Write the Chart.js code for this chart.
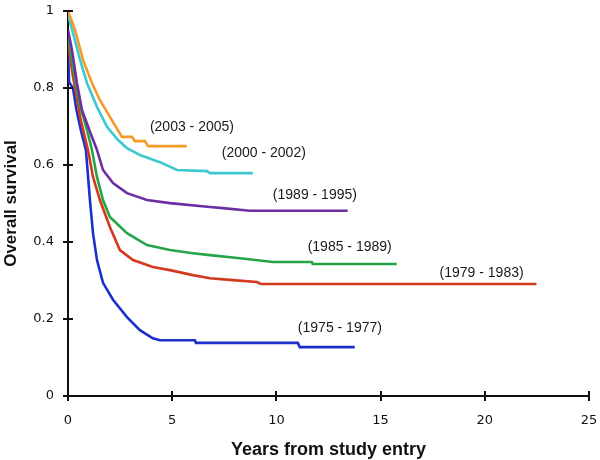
<!DOCTYPE html>
<html>
<head>
<meta charset="utf-8">
<script src="https://cdn.jsdelivr.net/npm/chart.js@4.4.1/dist/chart.umd.min.js"></script>
<style>
  html, body { margin: 0; padding: 0; background: #ffffff; }
  #wrap { width: 600px; height: 460px; position: relative; }
</style>
</head>
<body>
<div id="wrap"><canvas id="c" width="600" height="460"></canvas></div>
<script>
// ---- Data ----
const seriesNames = ['(2003 - 2005)', '(2000 - 2002)', '(1989 - 1995)', '(1985 - 1989)', '(1979 - 1983)', '(1975 - 1977)'];

const t2003 = [0, 0.34, 0.72, 1.15, 1.53, 2.01, 2.59, 3.07, 3.21, 3.69, 3.84, 5.70];
const s2003 = [1.0, 0.951, 0.873, 0.813, 0.769, 0.725, 0.673, 0.673, 0.662, 0.662, 0.649, 0.649];

const t2000 = [0, 0.24, 0.58, 0.91, 1.39, 1.87, 2.40, 2.83, 3.45, 4.51, 5.23, 6.66, 6.81, 8.87];
const s2000 = [0.990, 0.943, 0.873, 0.813, 0.751, 0.699, 0.665, 0.644, 0.626, 0.605, 0.587, 0.584, 0.579, 0.579];

const t1989 = [0, 0.19, 0.43, 0.67, 1.10, 1.39, 1.68, 2.16, 2.83, 3.79, 4.89, 6.81, 7.43, 8.72, 13.42];
const s1989 = [0.951, 0.899, 0.813, 0.743, 0.680, 0.639, 0.587, 0.553, 0.527, 0.509, 0.501, 0.491, 0.488, 0.481, 0.481];

const t1985 = [0, 0.28, 0.55, 0.91, 1.15, 1.39, 1.68, 2.01, 2.83, 3.79, 4.89, 5.99, 6.81, 8.25, 9.83, 11.70, 11.74, 15.77];
const s1985 = [0.940, 0.842, 0.760, 0.691, 0.639, 0.569, 0.509, 0.465, 0.423, 0.392, 0.379, 0.371, 0.366, 0.358, 0.348, 0.348, 0.343, 0.343];

const t1979 = [0, 0.20, 0.60, 0.96, 1.20, 1.53, 2.01, 2.49, 3.12, 4.07, 4.89, 5.99, 6.81, 7.91, 9.06, 9.25, 22.48];
const s1979 = [0.925, 0.842, 0.720, 0.639, 0.569, 0.509, 0.439, 0.379, 0.353, 0.335, 0.327, 0.314, 0.306, 0.301, 0.296, 0.291, 0.291];

const t1975 = [0, 0.05, 0.24, 0.40, 0.62, 0.86, 1.05, 1.20, 1.39, 1.68, 2.16, 2.83, 3.45, 4.07, 4.41, 6.09, 6.14, 11.03, 11.12, 13.76];
const s1975 = [0.900, 0.815, 0.800, 0.745, 0.690, 0.639, 0.510, 0.423, 0.353, 0.294, 0.250, 0.205, 0.171, 0.150, 0.145, 0.145, 0.138, 0.138, 0.127, 0.127];

const xTickLabels = ['0', '5', '10', '15', '20', '25'];
const yTickLabels = ['0', '0.2', '0.4', '0.6', '0.8', '1'];

// ---- Presentation ----
const colors = ['#F39A2B', '#3FC9CF', '#6B2FA3', '#25A548', '#D23A1E', '#1B2FCB'];
const labelAnchors = [[3.93, 0.699], [7.38, 0.631], [9.83, 0.522], [11.5, 0.387], [17.83, 0.319], [11.03, 0.177]];

const times = [t2003, t2000, t1989, t1985, t1979, t1975];
const surv = [s2003, s2000, s1989, s1985, s1979, s1975];

const datasets = seriesNames.map((name, i) => ({
  label: name,
  data: times[i].map((t, j) => ({ x: t, y: surv[i][j] })),
  borderColor: colors[i],
  backgroundColor: colors[i],
  borderWidth: 2.6,
  pointRadius: 0,
  tension: 0,
  fill: false
}));

const decorPlugin = {
  id: 'decor',
  afterDraw(chart) {
    const { ctx, scales: { x, y } } = chart;
    ctx.save();
    // crossing tick marks
    ctx.strokeStyle = '#111';
    ctx.lineWidth = 2;
    const x0 = x.getPixelForValue(0);
    const y0 = y.getPixelForValue(0);
    x.ticks.forEach(tk => {
      const px = Math.round(x.getPixelForValue(tk.value));
      ctx.beginPath(); ctx.moveTo(px, y0 - 5); ctx.lineTo(px, y0 + 5); ctx.stroke();
    });
    y.ticks.forEach(tk => {
      const py = Math.round(y.getPixelForValue(tk.value));
      ctx.beginPath(); ctx.moveTo(x0 - 5, py); ctx.lineTo(x0 + 5, py); ctx.stroke();
    });
    // series labels
    ctx.font = '14px "Liberation Sans", Arial, sans-serif';
    ctx.fillStyle = '#1a1a1a';
    ctx.textAlign = 'left';
    ctx.textBaseline = 'middle';
    labelAnchors.forEach((a, i) => {
      ctx.fillText(seriesNames[i], x.getPixelForValue(a[0]), y.getPixelForValue(a[1]));
    });
    ctx.restore();
  }
};

const hiddenGrid = (len) => ({
  display: true,
  drawOnChartArea: false,
  drawTicks: true,
  tickLength: len,
  color: 'rgba(0,0,0,0)'
});

new Chart(document.getElementById('c'), {
  type: 'line',
  data: { datasets },
  plugins: [decorPlugin],
  options: {
    responsive: false,
    animation: false,
    devicePixelRatio: 1,
    layout: { padding: { left: 0, top: 11, right: 11, bottom: 0 } },
    plugins: { legend: { display: false }, tooltip: { enabled: false } },
    scales: {
      x: {
        type: 'linear',
        min: 0, max: 25,
        afterFit: s => { s.height = 64; },
        ticks: {
          stepSize: 5,
          padding: 0,
          color: '#111',
          font: { family: '"DejaVu Sans", Verdana, sans-serif', size: 13 },
          callback: (v) => xTickLabels[Math.round(v / 5)]
        },
        grid: hiddenGrid(17),
        border: { display: true, color: '#111', width: 2 },
        title: {
          display: true,
          text: 'Years from study entry',
          color: '#111',
          font: { family: '"Liberation Sans", Arial, sans-serif', size: 18, weight: 'bold', lineHeight: 1.2 },
          padding: { top: 0, bottom: -1 }
        }
      },
      y: {
        type: 'linear',
        min: 0, max: 1,
        afterFit: s => { s.width = 68; },
        ticks: {
          stepSize: 0.2,
          padding: 0,
          color: '#111',
          font: { family: '"DejaVu Sans", Verdana, sans-serif', size: 13 },
          callback: (v) => yTickLabels[Math.round(v / 0.2)]
        },
        grid: hiddenGrid(14),
        border: { display: true, color: '#111', width: 2 },
        title: {
          display: true,
          text: 'Overall survival',
          color: '#111',
          font: { family: '"Liberation Sans", Arial, sans-serif', size: 17, weight: 'bold', lineHeight: 1.2 },
          padding: { top: 1, bottom: 0 }
        }
      }
    }
  }
});
</script>
</body>
</html>
